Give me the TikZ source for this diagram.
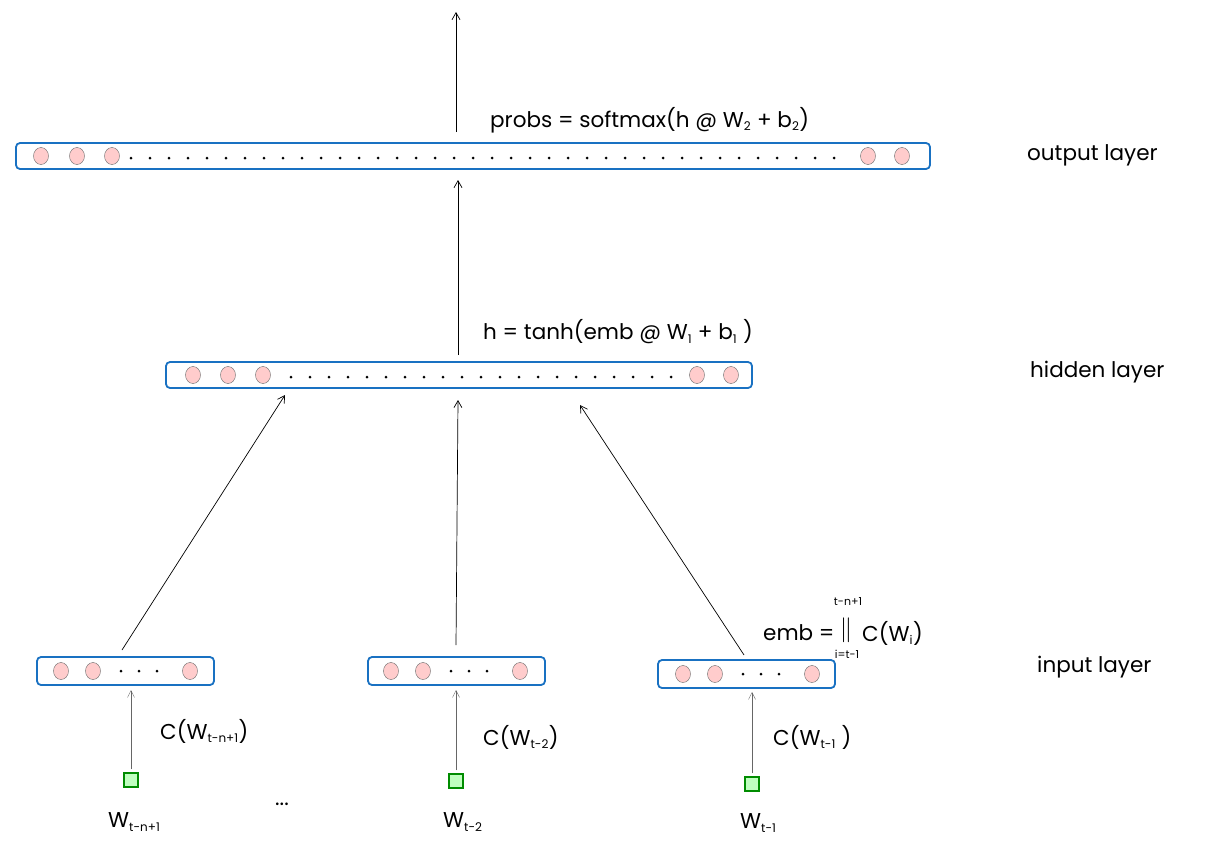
\documentclass[tikz,border=0pt]{standalone}
\usepackage{fontspec}
\setmainfont{Poppins}
\usetikzlibrary{arrows.meta,shapes.geometric}
\definecolor{lblue}{HTML}{1971C2}
\begin{document}
\begin{tikzpicture}[x=1pt,y=-1pt,
  lay/.style={draw=lblue, line width=1.8pt, rounded corners=4pt},
  neu/.style={draw=black!60, fill=red!20, ellipse, inner sep=0pt, minimum width=15pt, minimum height=17pt, line width=0.4pt},
  dt/.style={fill=black, circle, inner sep=0pt, minimum size=3pt},
  word/.style={draw=green!55!black, fill=green!25, line width=1.2pt, minimum size=14pt, inner sep=0pt},
  arr/.style={-{Straight Barb[length=7pt,width=8pt]}, line width=0.7pt},
  warr/.style={-{Straight Barb[length=7pt,width=7pt]}, line width=0.4pt, draw=black!60},
  lbl/.style={font=\fontsize{21.5}{24}\selectfont, inner sep=0pt},
  sm/.style={font=\fontsize{11}{13}\selectfont, inner sep=0pt}]
\newcommand{\sbs}[1]{\textsubscript{\fontsize{12}{13}\selectfont #1}}
\useasboundingbox (0,0) rectangle (1207,865);
% output layer
\node[lay, minimum width=914pt, minimum height=26pt] (out) at (473,156) {};
\foreach \x [count=\i] in {41,77,112,868,902} \node[neu] (o\i) at (\x,156) {};
\foreach \k in {0,...,37} \node[dt] at (131+\k*19,158) {};
% hidden layer
\node[lay, minimum width=586pt, minimum height=26pt] (hid) at (459,375) {};
\foreach \x [count=\i] in {193,228,263,697,731} \node[neu] (h\i) at (\x,375) {};
\foreach \k in {0,...,20} \node[dt] at (291+\k*19,377) {};
% input layers
\node[lay, minimum width=177pt, minimum height=28pt] (in1) at (125.5,671) {};
\node[lay, minimum width=177pt, minimum height=28pt] (in2) at (456.5,671) {};
\node[lay, minimum width=177pt, minimum height=28pt] (in3) at (746.5,674) {};
\foreach \x in {61,93,190} \node[neu] at (\x,671) {};
\foreach \x in {121,139,157} \node[dt] at (\x,671) {};
\foreach \x in {391,423,520} \node[neu] at (\x,671) {};
\foreach \x in {451,469,487} \node[dt] at (\x,671) {};
\foreach \x in {683,715,812} \node[neu] at (\x,674) {};
\foreach \x in {743,761,779} \node[dt] at (\x,674) {};
% words
\node[word] (w1) at (131,780) {};
\node[word] (w2) at (456,781) {};
\node[word] (w3) at (752,784) {};
\node[lbl, anchor=west] at (108,822) {W\sbs{t-n+1}};
\node[lbl, anchor=west] at (443,822) {W\sbs{t-2}};
\node[lbl, anchor=west] at (740,823) {W\sbs{t-1}};
\node[lbl] at (282,804) {...};
% coordinates
\coordinate (top) at (456,12);
\coordinate (oa) at (456,132);
\coordinate (hb) at (458,180);
\coordinate (ha) at (458,355);
\coordinate (i1a) at (122,650);
\coordinate (i1b) at (285,395);
\coordinate (i2a) at (456,645);
\coordinate (i2b) at (458,400);
\coordinate (i3a) at (744,655);
\coordinate (i3b) at (580,405);
\coordinate (c1) at (131,690);
\coordinate (c2) at (456,690);
\coordinate (c3) at (752,692);
\draw[arr] (oa) -- (top);
\draw[arr] (ha) -- (hb);
\draw[arr] (i1a) -- (i1b);
\draw[arr] (i2a) -- (i2b);
\draw[arr] (i3a) -- (i3b);
\draw[warr] ([yshift=3pt]w1.north) -- (c1);
\draw[warr] ([yshift=3pt]w2.north) -- (c2);
\draw[warr] ([yshift=3pt]w3.north) -- (c3);
% labels
\node[lbl, anchor=west] at (160,731) {C(W\sbs{t-n+1})};
\node[lbl, anchor=west] at (483,737) {C(W\sbs{t-2})};
\node[lbl, anchor=west] at (773,737) {C(W\sbs{t-1} )};
\node[lbl, anchor=west] at (490,120) {probs = softmax(h @ W\sbs{2} + b\sbs{2})};
\node[lbl, anchor=west] at (483,332) {h = tanh(emb @ W\sbs{1} + b\sbs{1} )};
\node[lbl, anchor=west] at (763,633) {emb =};
\node[font=\fontsize{30}{30}\selectfont, inner sep=0pt] at (846,630) {$\|$};
\node[sm] at (848,602) {t-n+1};
\node[sm] at (847,654) {i=t-1};
\node[lbl, anchor=west] at (862,633) {C(W\sbs{i})};
\node[lbl, anchor=west] at (1027,155) {output layer};
\node[lbl, anchor=west] at (1030,372) {hidden layer};
\node[lbl, anchor=west] at (1037,667) {input layer};
\end{tikzpicture}
\end{document}
